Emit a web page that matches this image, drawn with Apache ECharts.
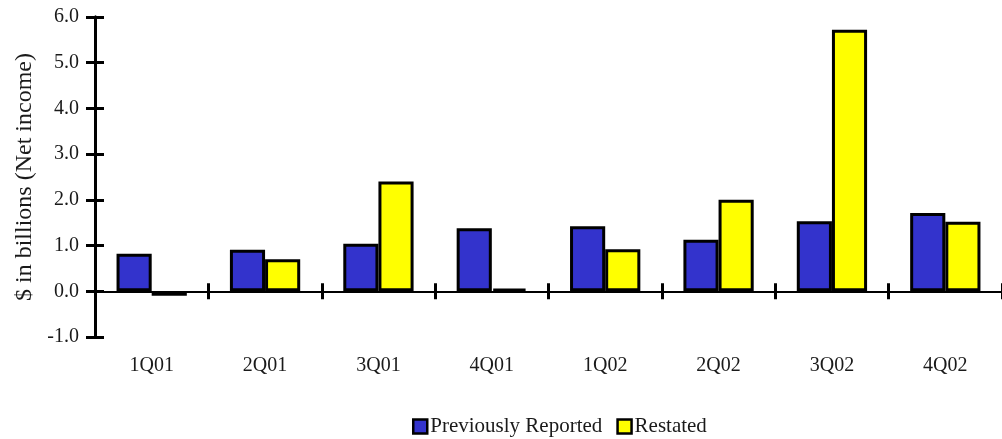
<!DOCTYPE html>
<html><head><meta charset="utf-8">
<script src="https://cdn.jsdelivr.net/npm/echarts@6/dist/echarts.min.js"></script>
<style>html,body{margin:0;padding:0;background:#fff}#c{width:1002px;height:439px}</style>
</head><body><div id="c"></div>
<script>
const categories = ['1Q01','2Q01','3Q01','4Q01','1Q02','2Q02','3Q02','4Q02'];
const previouslyReported = [0.82, 0.91, 1.04, 1.38, 1.42, 1.13, 1.53, 1.71];
const restated = [-0.1, 0.7, 2.4, 0.06, 0.92, 2.0, 5.72, 1.52];
const yTicks = {min: -1, max: 6, interval: 1};
const FONT = '"Liberation Serif", "DejaVu Serif", serif';

const chart = echarts.init(document.getElementById('c'), null, {renderer: 'canvas'});
const tickAxisX = (inside) => ({
  type: 'category', data: categories, gridIndex: 0, position: 'bottom',
  axisLine: {show: true, onZero: true, lineStyle: {color: '#000', width: 2}},
  axisTick: {show: true, inside: inside, length: 8, lineStyle: {color: '#000', width: 3}},
  axisLabel: {show: false}, splitLine: {show: false}
});
const tickAxisY = (inside, showLabel) => ({
  type: 'value', min: yTicks.min, max: yTicks.max, interval: yTicks.interval, position: 'left',
  axisLine: {show: true, lineStyle: {color: '#000', width: 3}},
  axisTick: {show: true, inside: inside, length: 9, lineStyle: {color: '#000', width: 3}},
  axisLabel: showLabel ? {show: true, margin: 16, color: '#1a1a1a', fontFamily: FONT, fontSize: 20,
    formatter: v => v.toFixed(1)} : {show: false},
  splitLine: {show: false},
  name: showLabel ? '$ in billions (Net income)' : '',
  nameLocation: 'middle', nameGap: 52, nameRotate: 90,
  nameTextStyle: {color: '#1a1a1a', fontFamily: FONT, fontSize: 24}
});
chart.setOption({
  animation: false,
  backgroundColor: '#fff',
  grid: {left: 95, right: -7, top: 17, bottom: 102, containLabel: false},
  legend: {
    top: 411, left: 407, itemWidth: 14, itemHeight: 14, itemGap: 14,
    icon: 'rect',
    textStyle: {color: '#1a1a1a', fontFamily: FONT, fontSize: 21, padding: [0, 0, 0, -2]},
    itemStyle: {borderColor: '#000', borderWidth: 2.5},
    data: ['Previously Reported', 'Restated']
  },
  xAxis: [
    {type: 'category', data: categories, position: 'bottom',
     axisLine: {show: false, onZero: false}, axisTick: {show: false},
     axisLabel: {show: true, margin: 19, color: '#1a1a1a', fontFamily: FONT, fontSize: 20}},
    tickAxisX(false),
    tickAxisX(true)
  ],
  yAxis: [tickAxisY(false, true), tickAxisY(true, false)],
  series: [
    {name: 'Previously Reported', type: 'bar', xAxisIndex: 0, yAxisIndex: 0, data: previouslyReported,
     barWidth: '31%', barGap: '0%',
     itemStyle: {color: '#3333CC', borderColor: '#000', borderWidth: 3}},
    {name: 'Restated', type: 'bar', xAxisIndex: 0, yAxisIndex: 0, data: restated,
     barWidth: '31%', barGap: '0%',
     itemStyle: {color: '#FFFF00', borderColor: '#000', borderWidth: 3}}
  ]
});
</script></body></html>
